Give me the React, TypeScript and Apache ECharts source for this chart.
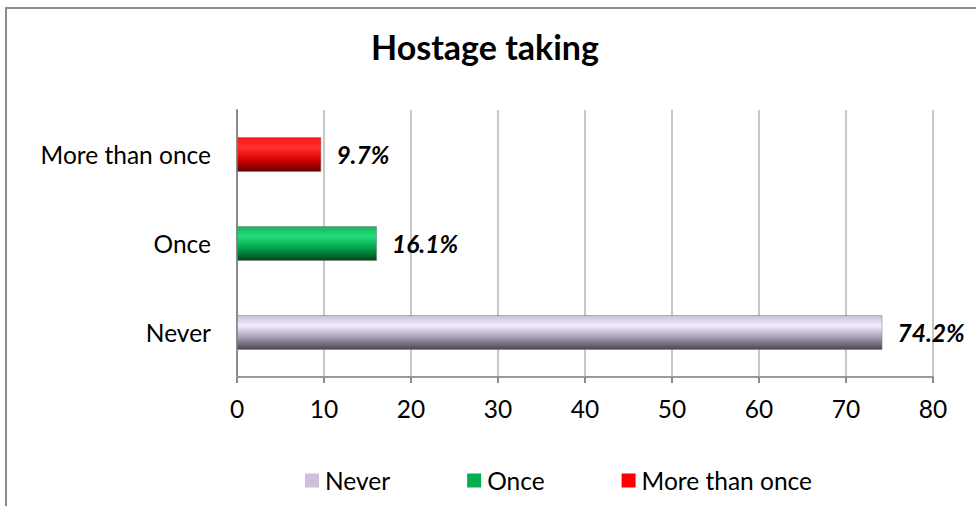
import React, { useEffect, useRef } from "react";
import * as echarts from "echarts";

const categories = ["Never", "Once", "More than once"];
const seriesNames = ["Never", "Once", "More than once"];
const values = [74.2, 16.1, 9.7];
const xTicks = [0, 10, 20, 30, 40, 50, 60, 70, 80];
const title = "Hostage taking";

const FONT = "Lato, 'Open Sans', sans-serif";
const FS = 24.5;

const gradients = [
  [
    [0, "#cbbfd9"],
    [0.3, "#f3ecff"],
    [0.65, "#a89cb5"],
    [1, "#4a4352"],
  ],
  [
    [0, "#12b85c"],
    [0.3, "#22dc7a"],
    [0.65, "#00a04c"],
    [1, "#00461e"],
  ],
  [
    [0, "#ff1414"],
    [0.3, "#ff3030"],
    [0.65, "#d80000"],
    [1, "#660000"],
  ],
];
const flatColors = ["#ccc0da", "#00b050", "#ff0000"];

export default function App() {
  const ref = useRef<HTMLDivElement>(null);
  useEffect(() => {
    if (!ref.current) return;
    const chart = echarts.init(ref.current, undefined, { renderer: "svg" });
    const series = seriesNames.map((name, i) => ({
      name,
      type: "bar",
      barWidth: 35,
      barGap: "-100%",
      data: categories.map((_, j) => (j === i ? values[i] : "-")),
      itemStyle: {
        color: new echarts.graphic.LinearGradient(
          0,
          0,
          0,
          1,
          gradients[i].map(([offset, color]) => ({ offset: offset as number, color: color as string }))
        ),
        borderColor: "rgba(120,120,120,0.5)",
        borderWidth: 1,
      },
      label: {
        show: true,
        position: "right",
        distance: 15,
        formatter: "{c}%",
        fontFamily: FONT,
        fontSize: FS,
        fontWeight: "bold",
        fontStyle: "italic",
        color: "#000",
      },
    }));
    chart.setOption({
      animation: false,
      backgroundColor: "#fff",
      title: {
        text: title,
        left: 480,
        textAlign: "center",
        top: 24,
        textStyle: { fontFamily: FONT, fontSize: 34, fontWeight: "bold", color: "#000" },
      },
      graphic: [
        {
          type: "rect",
          shape: { x: 6, y: 8, width: 1000, height: 600 },
          style: { fill: "none", stroke: "#8c8c8c", lineWidth: 2 },
        },
      ],
      legend: {
        left: 300,
        top: 463,
        icon: "rect",
        itemWidth: 14,
        itemHeight: 14,
        itemGap: 77,
        textStyle: { fontFamily: FONT, fontSize: FS, color: "#000", padding: [0, 0, 0, 1] },
        data: seriesNames.map((n, i) => ({ name: n, itemStyle: { color: flatColors[i], borderWidth: 0 } })),
      },
      grid: { left: 237, right: 43, top: 110, bottom: 129 },
      xAxis: {
        type: "value",
        min: 0,
        max: 80,
        interval: 10,
        axisLine: { show: true, lineStyle: { color: "#9a9a9a", width: 2 } },
        axisTick: { show: true, length: 6, lineStyle: { color: "#8c8c8c", width: 2 } },
        axisLabel: {
          fontFamily: FONT,
          fontSize: FS,
          color: "#000",
          margin: 19,
          formatter: (v: number) => (xTicks.includes(v) ? String(v) : ""),
        },
        splitLine: { show: true, lineStyle: { color: "#c8c8c8", width: 2 } },
      },
      yAxis: {
        type: "category",
        data: categories,
        axisLine: { show: true, lineStyle: { color: "#8c8c8c", width: 2 } },
        axisTick: { show: false },
        axisLabel: { fontFamily: FONT, fontSize: FS, color: "#000", margin: 26 },
        splitLine: { show: false },
      },
      series,
    });
    return () => chart.dispose();
  }, []);
  return (
    <div
      ref={ref}
      style={{ position: "fixed", left: 0, top: 0, width: 976, height: 506 }}
    />
  );
}
